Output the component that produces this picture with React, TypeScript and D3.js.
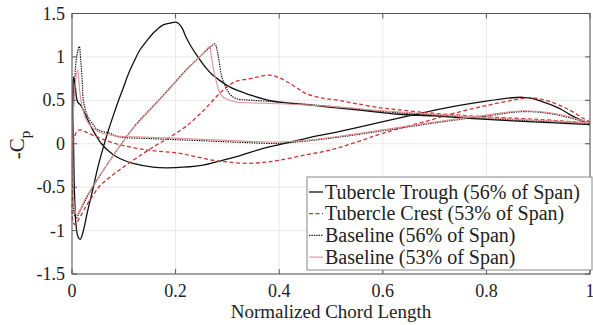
import React from "react";
import * as d3 from "d3";

type P = [number, number];

const xTicks = [0, 0.2, 0.4, 0.6, 0.8, 1];
const yTicks = [-1.5, -1, -0.5, 0, 0.5, 1, 1.5];
const xTickLabels = ["0", "0.2", "0.4", "0.6", "0.8", "1"];
const yTickLabels = ["-1.5", "-1", "-0.5", "0", "0.5", "1", "1.5"];

const seriesNames = [
  "Tubercle Trough (56% of Span)",
  "Tubercle Crest (53% of Span)",
  "Baseline (56% of Span)",
  "Baseline (53% of Span)",
];

// Tubercle trough (56%): branch with large peak (TE -> LE), then other branch (LE -> TE)
const troughA: P[] = [
  [1.0, 0.22], [0.95, 0.235], [0.9, 0.25], [0.8, 0.28], [0.7, 0.32], [0.63, 0.34], [0.55, 0.39],
  [0.5, 0.42], [0.45, 0.45], [0.4, 0.48], [0.38, 0.5], [0.35, 0.55], [0.317, 0.62], [0.3, 0.67],
  [0.285, 0.73], [0.27, 0.8], [0.259, 0.87], [0.243, 1.0], [0.23, 1.12], [0.22, 1.23], [0.211, 1.35],
  [0.201, 1.4], [0.19, 1.39], [0.176, 1.37], [0.165, 1.32], [0.156, 1.27], [0.145, 1.19], [0.131, 1.08],
  [0.12, 0.95], [0.11, 0.82], [0.1, 0.66], [0.09, 0.5], [0.08, 0.33], [0.07, 0.15], [0.06, -0.05],
  [0.05, -0.27], [0.04, -0.53], [0.03, -0.78], [0.022, -1.0], [0.016, -1.1], [0.012, -1.08],
  [0.008, -0.95], [0.005, -0.6], [0.003, 0.0], [0.002, 0.5], [0.003, 0.77],
];
const troughB: P[] = [
  [0.003, 0.77], [0.006, 0.68], [0.009, 0.52], [0.012, 0.47], [0.016, 0.45], [0.02, 0.41], [0.03, 0.28],
  [0.04, 0.16], [0.05, 0.06], [0.057, 0.0], [0.07, -0.08], [0.086, -0.15], [0.1, -0.19], [0.12, -0.23],
  [0.156, -0.27], [0.2, -0.275], [0.25, -0.25], [0.285, -0.2], [0.323, -0.14], [0.36, -0.07], [0.4, -0.01],
  [0.45, 0.06], [0.515, 0.14], [0.59, 0.24], [0.65, 0.32], [0.72, 0.41], [0.8, 0.49], [0.85, 0.53],
  [0.87, 0.535], [0.89, 0.52], [0.91, 0.48], [0.94, 0.41], [0.963, 0.33], [0.98, 0.28], [1.0, 0.235],
];

// Tubercle crest (53%)
const crestA: P[] = [
  [1.0, 0.24], [0.95, 0.26], [0.9, 0.28], [0.8, 0.31], [0.7, 0.35], [0.631, 0.39], [0.6, 0.41],
  [0.55, 0.46], [0.515, 0.5], [0.48, 0.53], [0.451, 0.58], [0.435, 0.64], [0.419, 0.7], [0.4, 0.76],
  [0.381, 0.79], [0.36, 0.77], [0.34, 0.745], [0.317, 0.72], [0.3, 0.66], [0.285, 0.58], [0.25, 0.36],
  [0.22, 0.2], [0.19, 0.08], [0.156, -0.04], [0.123, -0.17], [0.092, -0.3], [0.07, -0.4], [0.053, -0.49],
  [0.04, -0.6], [0.027, -0.72], [0.015, -0.85], [0.006, -0.93], [0.002, -0.9], [0.001, -0.5], [0.002, 0.0],
];
const crestB: P[] = [
  [0.002, 0.0], [0.006, 0.1], [0.011, 0.15], [0.017, 0.16], [0.025, 0.14], [0.04, 0.1], [0.06, 0.05],
  [0.085, 0.0], [0.123, -0.05], [0.156, -0.08], [0.208, -0.11], [0.24, -0.15], [0.272, -0.19], [0.3, -0.21],
  [0.336, -0.225], [0.37, -0.215], [0.4, -0.19], [0.45, -0.13], [0.5, -0.07], [0.55, 0.02], [0.6, 0.12],
  [0.69, 0.27], [0.75, 0.37], [0.8, 0.44], [0.85, 0.5], [0.88, 0.53], [0.9, 0.52], [0.93, 0.47],
  [0.96, 0.39], [0.985, 0.3], [1.0, 0.25],
];

// Baseline (56%)
const base56A: P[] = [
  [1.0, 0.235], [0.9, 0.26], [0.8, 0.29], [0.7, 0.33], [0.6, 0.37], [0.5, 0.43], [0.4, 0.48], [0.35, 0.5],
  [0.317, 0.52], [0.305, 0.57], [0.298, 0.64], [0.292, 0.72], [0.288, 0.8], [0.284, 0.95], [0.28, 1.08],
  [0.276, 1.15], [0.27, 1.13], [0.25, 1.02], [0.22, 0.85], [0.19, 0.65], [0.156, 0.43], [0.123, 0.22],
  [0.092, -0.03], [0.078, -0.15], [0.06, -0.31], [0.04, -0.5], [0.025, -0.66], [0.015, -0.78],
  [0.008, -0.86], [0.004, -0.8], [0.002, -0.4], [0.002, 0.2], [0.005, 0.7], [0.009, 1.0], [0.014, 1.12],
];
const base56B: P[] = [
  [0.014, 1.12], [0.017, 0.95], [0.02, 0.7], [0.022, 0.5], [0.03, 0.32], [0.041, 0.22], [0.05, 0.16],
  [0.073, 0.12], [0.09, 0.08], [0.15, 0.06], [0.25, 0.035], [0.33, 0.015], [0.4, 0.005], [0.45, 0.03],
  [0.52, 0.08], [0.6, 0.15], [0.7, 0.24], [0.8, 0.32], [0.87, 0.37], [0.92, 0.35], [0.96, 0.3], [1.0, 0.235],
];

// Baseline (53%)
const base53A: P[] = [
  [1.0, 0.24], [0.9, 0.27], [0.8, 0.3], [0.7, 0.34], [0.6, 0.38], [0.5, 0.43], [0.4, 0.46], [0.35, 0.47],
  [0.317, 0.48], [0.3, 0.51], [0.288, 0.56], [0.278, 0.73], [0.272, 0.9], [0.268, 1.04], [0.266, 1.12],
  [0.26, 1.09], [0.25, 1.02], [0.22, 0.84], [0.19, 0.64], [0.156, 0.42], [0.123, 0.21], [0.092, -0.03],
  [0.078, -0.15], [0.06, -0.31], [0.04, -0.49], [0.025, -0.64], [0.015, -0.76], [0.009, -0.82],
  [0.005, -0.75], [0.002, -0.4], [0.002, 0.2], [0.005, 0.6], [0.011, 0.85],
];
const base53B: P[] = [
  [0.011, 0.85], [0.015, 0.6], [0.02, 0.42], [0.031, 0.24], [0.054, 0.13], [0.085, 0.09], [0.15, 0.075],
  [0.25, 0.05], [0.33, 0.03], [0.4, 0.02], [0.45, 0.04], [0.52, 0.09], [0.6, 0.16], [0.7, 0.25],
  [0.8, 0.33], [0.87, 0.38], [0.92, 0.36], [0.96, 0.31], [1.0, 0.24],
];

const W = 593;
const H = 325;
const left = 72;
const right = 590;
const top = 13.5;
const bottom = 274;

const FONT = "Liberation Serif";

export default function App() {
  const x = d3.scaleLinear().domain([0, 1]).range([left, right]);
  const y = d3.scaleLinear().domain([-1.5, 1.5]).range([bottom, top]);
  const line = d3
    .line<P>()
    .x((d) => x(d[0]))
    .y((d) => y(d[1]))
    .curve(d3.curveCatmullRom.alpha(0.5));

  const series = [
    { data: [troughA, troughB.slice(1)], stroke: "#111", width: 1.3, dash: undefined as string | undefined },
    { data: [crestA, crestB.slice(1)], stroke: "#cc3333", width: 1.3, dash: "4,2.5" },
    { data: [base56A, base56B.slice(1)], stroke: "#1a1a1a", width: 1.2, dash: "1.4,1" },
    { data: [base53A, base53B.slice(1)], stroke: "#e29393", width: 1.1, dash: undefined },
  ];

  const legX = 307;
  const legY = 177;
  const legW = 285;
  const legH = 93;
  const rowH = 21.7;
  const txt = { fontFamily: FONT };

  return (
    <svg width={W} height={H} style={{ position: "absolute", left: 0, top: 0, fontFamily: FONT }}>
      <rect x={0} y={0} width={W} height={H} fill="#fff" />
      {xTicks.map((t) => (
        <line key={"gx" + t} x1={x(t)} x2={x(t)} y1={top} y2={bottom} stroke="#e8e8e8" strokeWidth={1} />
      ))}
      {yTicks.map((t) => (
        <line key={"gy" + t} x1={left} x2={right} y1={y(t)} y2={y(t)} stroke="#e8e8e8" strokeWidth={1} />
      ))}
      {series.map((s, i) => (
        <path
          key={i}
          d={line([...s.data[0], ...s.data[1]]) || ""}
          fill="none"
          stroke={s.stroke}
          strokeWidth={s.width}
          strokeDasharray={s.dash}
          strokeLinejoin="round"
        />
      ))}
      <rect x={left} y={top} width={right - left} height={bottom - top} fill="none" stroke="#555" strokeWidth={1} />
      {xTicks.map((t) => (
        <g key={"tx" + t}>
          <line x1={x(t)} x2={x(t)} y1={bottom} y2={bottom - 5} stroke="#555" />
          <line x1={x(t)} x2={x(t)} y1={top} y2={top + 5} stroke="#555" />
        </g>
      ))}
      {yTicks.map((t) => (
        <g key={"ty" + t}>
          <line x1={left} x2={left + 5} y1={y(t)} y2={y(t)} stroke="#555" />
          <line x1={right} x2={right - 5} y1={y(t)} y2={y(t)} stroke="#555" />
        </g>
      ))}
      {xTicks.map((t, i) => (
        <text key={"lx" + t} x={x(t)} y={297} textAnchor="middle" style={txt} fontSize={18} fill="#222">
          {xTickLabels[i]}
        </text>
      ))}
      {yTicks.map((t, i) => (
        <text key={"ly" + t} x={65} y={y(t) + 6} textAnchor="end" style={txt} fontSize={18} fill="#222">
          {yTickLabels[i]}
        </text>
      ))}
      <text x={(left + right) / 2} y={318} textAnchor="middle" style={txt} fontSize={19} fill="#222">
        Normalized Chord Length
      </text>
      <text transform="translate(24,145) rotate(-90)" textAnchor="middle" style={txt} fontSize={21} fill="#222">
        -C
        <tspan dy={6} fontSize={15}>p</tspan>
      </text>
      <rect x={legX} y={legY} width={legW} height={legH} fill="#fff" stroke="#888" strokeWidth={1} />
      {series.map((s, i) => {
        const cy = legY + 15 + i * rowH;
        return (
          <g key={"leg" + i}>
            <line
              x1={legX + 2}
              x2={legX + 16}
              y1={cy}
              y2={cy}
              stroke={s.stroke}
              strokeWidth={s.width}
              strokeDasharray={s.dash}
            />
            <text x={legX + 18} y={cy + 6.5} style={txt} fontSize={20} fill="#222">
              {seriesNames[i]}
            </text>
          </g>
        );
      })}
    </svg>
  );
}
